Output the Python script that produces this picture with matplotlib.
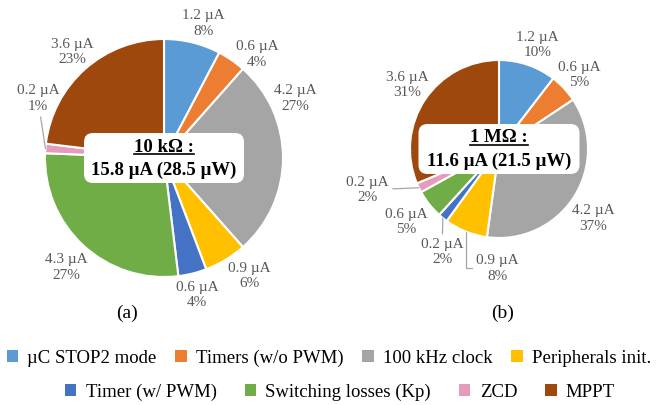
import matplotlib
matplotlib.use("Agg")
import matplotlib.pyplot as plt
from matplotlib.patches import FancyBboxPatch, Patch
import numpy as np

plt.rcParams['font.family'] = ['Liberation Serif', 'DejaVu Serif']

categories = ["µC STOP2 mode", "Timers (w/o PWM)", "100 kHz clock", "Peripherals init.",
              "Timer (w/ PWM)", "Switching losses (Kp)", "ZCD", "MPPT"]
colors = ["#5B9BD5", "#ED7D31", "#A5A5A5", "#FFC000",
          "#4472C4", "#70AD47", "#E59BBB", "#9E480E"]

# currents in uA and the percentages printed next to them
current_10k = [1.2, 0.6, 4.2, 0.9, 0.6, 4.3, 0.2, 3.6]
percent_10k = [8, 4, 27, 6, 4, 27, 1, 23]
current_1M = [1.2, 0.6, 4.2, 0.9, 0.2, 0.6, 0.2, 3.6]
percent_1M = [10, 5, 37, 8, 2, 5, 2, 31]

titles = [("10 kΩ :", "15.8 µA (28.5 µW)"), ("1 MΩ :", "11.6 µA (21.5 µW)")]
sublabels = ["(a)", "(b)"]

# label offsets in units of the pie radius
pos_10k = [(0.33, 1.13), (0.78, 0.87), (1.10, 0.50), (0.72, -0.99),
           (0.28, -1.15), (-0.82, -0.92), (-1.06, 0.50), (-0.77, 0.89)]
pos_1M = [(0.43, 1.17), (0.90, 0.83), (1.06, -0.78), (-0.02, -1.34),
          (-0.64, -1.16), (-1.04, -0.82), (-1.48, -0.46), (-1.03, 0.72)]
leaders_10k = {6: "arc3"}
leaders_1M = {3: "angle,angleA=0,angleB=90,rad=0", 4: "arc3", 6: "arc3"}

W, H = 657, 405
fig = plt.figure(figsize=(W / 100, H / 100), dpi=100)
ax = fig.add_axes([0, 0, 1, 1])

pies = [
    dict(vals=current_10k, pct=percent_10k, pos=pos_10k, lead=leaders_10k,
         c=(164, 247), r=119, box=(160, 50), sub=(127, 92)),
    dict(vals=current_1M, pct=percent_1M, pos=pos_1M, lead=leaders_1M,
         c=(499, 256), r=89, box=(161, 50), sub=(503, 92)),
]

line1_texts = []
for k, p in enumerate(pies):
    cx, cy = p["c"]
    R = p["r"]
    wedges, _ = ax.pie(p["vals"], colors=colors, startangle=90, counterclock=False,
                       center=(cx, cy), radius=R,
                       wedgeprops=dict(edgecolor="white", linewidth=1.5))
    for i, w in enumerate(wedges):
        lx, ly = cx + R * p["pos"][i][0], cy + R * p["pos"][i][1]
        s = "%.1f µA\n%d%%" % (p["vals"][i], p["pct"][i])
        if i in p["lead"]:
            mid = np.deg2rad((w.theta1 + w.theta2) / 2)
            xy = (cx + R * np.cos(mid), cy + R * np.sin(mid))
            ax.annotate(s, xy=xy, xytext=(lx, ly), ha="center", va="center",
                        fontsize=11, color="#595959", linespacing=1.25,
                        arrowprops=dict(arrowstyle="-", color="#A6A6A6", lw=0.9,
                                        shrinkA=1, shrinkB=0,
                                        connectionstyle=p["lead"][i]))
        else:
            ax.text(lx, ly, s, ha="center", va="center", fontsize=11,
                    color="#595959", linespacing=1.25)

    bw, bh = p["box"]
    ax.add_patch(FancyBboxPatch((cx - bw / 2, cy - bh / 2), bw, bh,
                                boxstyle="round,pad=0,rounding_size=9",
                                fc="white", ec="none", zorder=5))
    t1 = ax.text(cx, cy + 11, titles[k][0], ha="center", va="center",
                 fontsize=13.5, fontweight="bold", zorder=6)
    ax.text(cx, cy - 12, titles[k][1], ha="center", va="center",
            fontsize=13.5, fontweight="bold", zorder=6)
    line1_texts.append(t1)
    ax.text(p["sub"][0], p["sub"][1], sublabels[k], ha="center", va="center",
            fontsize=14)

ax.set_xlim(0, W)
ax.set_ylim(0, H)
ax.set_aspect("equal")
ax.axis("off")

# underline the first title line
fig.canvas.draw()
r = fig.canvas.get_renderer()
inv = ax.transData.inverted()
for t in line1_texts:
    bb = t.get_window_extent(r)
    (x0, y0), (x1, y1) = inv.transform([(bb.x0, bb.y0), (bb.x1, bb.y1)])
    ax.plot([x0, x1], [y0 + 1.5, y0 + 1.5], color="black", lw=1.2, zorder=7)

handles = [Patch(facecolor=c, edgecolor="none") for c in colors]
fig.legend(handles[:4], categories[:4], loc="center", ncol=4,
           bbox_to_anchor=(329 / W, 1 - 358 / H), frameon=False, fontsize=13.5,
           handlelength=0.6, handleheight=0.6, handletextpad=0.5, columnspacing=1.0)
fig.legend(handles[4:], categories[4:], loc="center left", ncol=4,
           bbox_to_anchor=(48 / W, 1 - 392 / H), frameon=False, fontsize=13.5,
           handlelength=0.6, handleheight=0.6, handletextpad=0.5, columnspacing=1.5)

fig.savefig("out.png", dpi=100)
